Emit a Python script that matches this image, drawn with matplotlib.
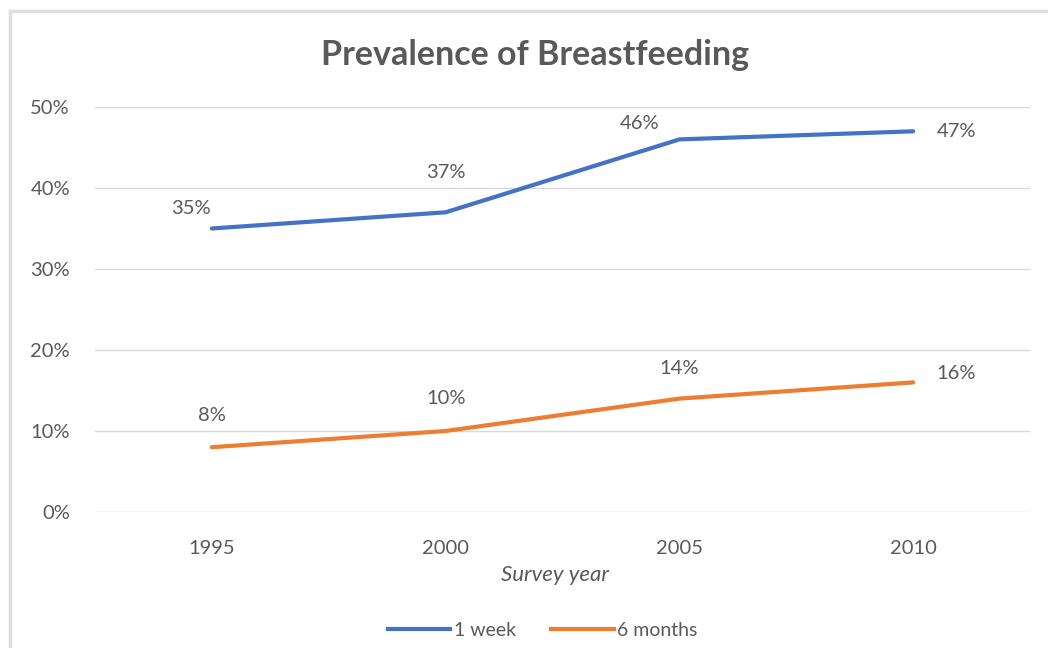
import numpy as np
import matplotlib.pyplot as plt
from matplotlib.lines import Line2D

years = ['1995', '2000', '2005', '2010']
one_week = [0.35, 0.37, 0.46, 0.47]
six_months = [0.08, 0.10, 0.14, 0.16]

# label offsets in pixels (dx, dy)
week_offsets = [(-21, 20), (0, 40), (-40, 16), (43, 0)]
months_offsets = [(0, 32), (0, 32), (0, 30), (43, 9)]

plt.rcParams['font.family'] = ['Lato', 'DejaVu Sans']
grey = '#595959'
blue = '#4472C4'
orange = '#ED7D31'

fig = plt.figure(figsize=(10.48, 6.48), dpi=100)
ax = fig.add_axes([95/1048, 1-512/648, 935/1048, 405/648])

x = np.arange(len(years))
ax.plot(x, one_week, color=blue, lw=3, solid_capstyle='round', label='1 week', zorder=3)
ax.plot(x, six_months, color=orange, lw=3, solid_capstyle='round', label='6 months', zorder=3)

for xi, v, off in zip(x, one_week, week_offsets):
    ax.annotate(f'{v:.0%}', (xi, v), xytext=off, textcoords='offset pixels',
                ha='center', va='center', fontsize=14.5, color=grey)
for xi, v, off in zip(x, six_months, months_offsets):
    ax.annotate(f'{v:.0%}', (xi, v), xytext=off, textcoords='offset pixels',
                ha='center', va='center', fontsize=14.5, color=grey)

ax.set_xlim(-0.5, 3.5)
ax.set_ylim(0, 0.5)
ax.set_yticks(np.arange(0, 0.51, 0.1))
ax.set_yticklabels([f'{int(round(t*100))}%' for t in np.arange(0, 0.51, 0.1)])
ax.set_xticks(x)
ax.set_xticklabels(years)
ax.tick_params(length=0, labelsize=14.5, labelcolor=grey)
ax.tick_params(axis='y', pad=18)
ax.tick_params(axis='x', pad=20)
ax.grid(axis='y', color='#D9D9D9', lw=1)
ax.set_axisbelow(True)
for s in ax.spines.values():
    s.set_visible(False)

fig.text(555/1048, 1-575/648, 'Survey year', ha='center', va='center',
         fontsize=16, color=grey, style='italic')

fig.text(535/1048, 1-55/648, 'Prevalence of Breastfeeding', ha='center', va='center',
         fontsize=24.5, fontweight='bold', color=grey)

handles = [Line2D([], [], color=blue, lw=3), Line2D([], [], color=orange, lw=3)]
fig.legend(handles, ['1 week', '6 months'], loc='center', bbox_to_anchor=(543/1048, 1-630/648),
           ncol=2, frameon=False, fontsize=14, labelcolor=grey, handlelength=3.2,
           handletextpad=0.2, columnspacing=1.8)

# outer chart border (top and left visible)
fig.add_artist(Line2D([10/1048, 10/1048], [0, 1-11/648], color='#E0E0E0', lw=2.5,
                      transform=fig.transFigure))
fig.add_artist(Line2D([10/1048, 1], [1-11/648, 1-11/648], color='#E0E0E0', lw=2.5,
                      transform=fig.transFigure))

fig.savefig('out.png', dpi=100)
